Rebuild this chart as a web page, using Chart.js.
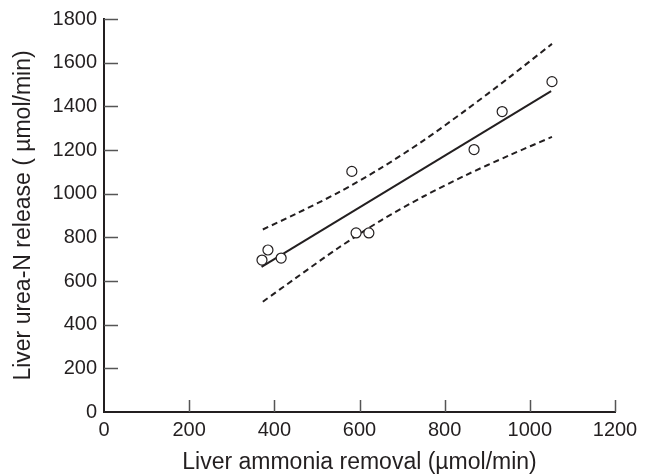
<!DOCTYPE html>
<html>
<head>
<meta charset="utf-8">
<script src="https://cdn.jsdelivr.net/npm/chart.js@4.4.0/dist/chart.umd.min.js"></script>
<style>
  html, body { margin: 0; padding: 0; background: #fff; }
  #wrap { width: 651px; height: 474px; }
</style>
</head>
<body>
<div id="wrap"><canvas id="liverChart"></canvas></div>
<script>
// values
const ammoniaRemoval = [371, 385, 416, 582, 592, 622, 869, 935, 1052];
const ureaRelease = [696, 742, 705, 1102, 820, 820, 1202, 1376, 1513];

const fitX = [370, 1050];
const fitY = [665, 1470];

const bandX = [373, 450, 550, 650, 750, 850, 950, 1052];
const upperBand = [836, 907, 1005, 1117, 1243, 1383, 1530, 1686];
const lowerBand = [505, 613, 751, 877, 987, 1085, 1174, 1260];

const xTicks = [0, 200, 400, 600, 800, 1000, 1200];
const yTicks = [0, 200, 400, 600, 800, 1000, 1200, 1400, 1600, 1800];

const ink = "#231f20";
const fontFamily = "'Liberation Sans', Arial, sans-serif";
const pairs = (xs, ys) => xs.map((x, i) => ({ x: x, y: ys[i] }));

// ticks in this figure point into the plot
const innerTicks = {
  id: "innerTicks",
  afterDraw(chart) {
    const ctx = chart.ctx;
    const xs = chart.scales.x;
    const ys = chart.scales.y;
    const area = chart.chartArea;
    ctx.save();
    ctx.strokeStyle = "#555";
    ctx.lineWidth = 1.5;
    ctx.beginPath();
    xTicks.slice(1).forEach((v) => {
      const px = Math.round(xs.getPixelForValue(v)) + 0.5;
      ctx.moveTo(px, area.bottom);
      ctx.lineTo(px, area.bottom - 12);
    });
    yTicks.slice(1).forEach((v) => {
      const py = Math.round(ys.getPixelForValue(v)) + 0.5;
      ctx.moveTo(area.left, py);
      ctx.lineTo(area.left + 14, py);
    });
    ctx.stroke();
    ctx.restore();
  },
};

new Chart(document.getElementById("liverChart"), {
  type: "scatter",
  data: {
    datasets: [
      {
        label: "Observed",
        data: pairs(ammoniaRemoval, ureaRelease),
        pointStyle: "circle",
        pointRadius: 5,
        pointBorderWidth: 1.2,
        pointBorderColor: ink,
        pointBackgroundColor: "#fff",
        showLine: false,
        order: 0,
      },
      {
        label: "Regression",
        data: pairs(fitX, fitY),
        showLine: true,
        borderColor: ink,
        borderWidth: 2,
        pointRadius: 0,
        order: 1,
      },
      {
        label: "Upper 95% CI",
        data: pairs(bandX, upperBand),
        showLine: true,
        borderColor: ink,
        borderWidth: 2,
        borderDash: [6, 4],
        tension: 0.3,
        pointRadius: 0,
        order: 2,
      },
      {
        label: "Lower 95% CI",
        data: pairs(bandX, lowerBand),
        showLine: true,
        borderColor: ink,
        borderWidth: 2,
        borderDash: [6, 4],
        tension: 0.3,
        pointRadius: 0,
        order: 2,
      },
    ],
  },
  options: {
    responsive: true,
    maintainAspectRatio: false,
    animation: false,
    layout: { padding: { top: 17, right: 36, left: 0, bottom: 0 } },
    plugins: {
      legend: { display: false },
      tooltip: { enabled: false },
    },
    scales: {
      x: {
        type: "linear",
        min: 0,
        max: 1200,
        afterBuildTicks: (scale) => {
          scale.ticks = xTicks.map((v) => ({ value: v }));
        },
        afterFit: (scale) => {
          scale.height = 62;
        },
        grid: { display: false, drawTicks: false },
        border: { display: true, color: ink, width: 2 },
        ticks: {
          color: ink,
          padding: 6,
          maxRotation: 0,
          callback: (v) => String(v),
          font: { family: fontFamily, size: 20 },
        },
        title: {
          display: true,
          text: "Liver ammonia removal (µmol/min)",
          color: ink,
          padding: { top: 0, bottom: -2 },
          font: { family: fontFamily, size: 23 },
        },
      },
      y: {
        type: "linear",
        min: 0,
        max: 1800,
        afterBuildTicks: (scale) => {
          scale.ticks = yTicks.map((v) => ({ value: v }));
        },
        afterFit: (scale) => {
          scale.width = 104;
        },
        grid: { display: false, drawTicks: false },
        border: { display: true, color: ink, width: 2 },
        ticks: {
          color: ink,
          padding: 7,
          callback: (v) => String(v),
          font: { family: fontFamily, size: 20 },
        },
        title: {
          display: true,
          text: "Liver urea-N release ( µmol/min)",
          color: ink,
          padding: { top: 10, bottom: 0 },
          font: { family: fontFamily, size: 23 },
        },
      },
    },
  },
  plugins: [innerTicks],
});
</script>
</body>
</html>
